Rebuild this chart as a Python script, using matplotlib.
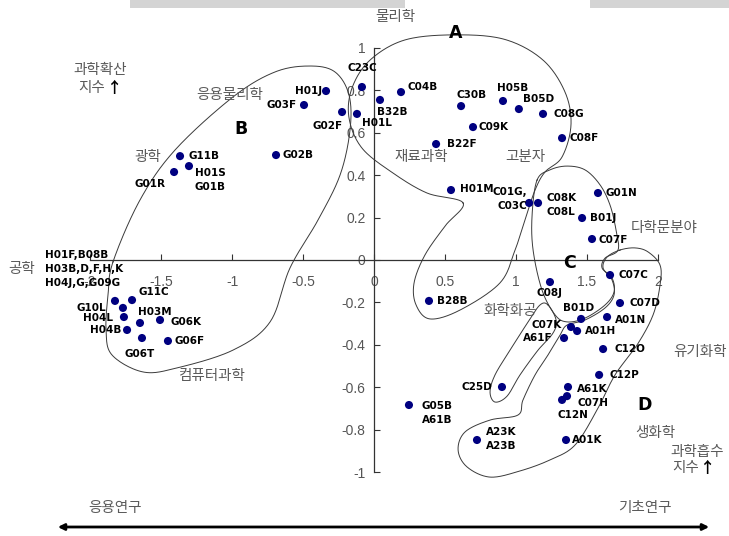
import matplotlib
matplotlib.use("Agg")
import matplotlib.pyplot as plt
from matplotlib.patches import FancyArrowPatch, Rectangle
import numpy as np

# patent classes: code label, x = 과학흡수 지수, y = 과학확산 지수
codes = ["C23C", "H01J", "G03F", "G02F", "H01L", "B32B", "C04B", "C30B", "H05B",
         "B05D", "C08G", "C09K", "C08F", "B22F", "H01M", "C01G,\nC03C", "C08K\nC08L",
         "G01N", "B01J", "C07F", "G11B", "H01S\nG01B", "G01R", "G02B", "G11C", "G10L",
         "H04L", "H03M", "G06K", "H04B", "G06T", "G06F",
         "H01F,B08B\nH03B,D,F,H,K\nH04J,G,G09G",
         "B28B", "C08J", "C07C", "C07D", "B01D", "A01N", "C07K", "A01H", "A61F",
         "C12O", "C12P", "A61K", "C07H", "C12N", "C25D", "G05B\nA61B", "A23K\nA23B",
         "A01K"]
x_vals = [-0.085, -0.338, -0.493, -0.225, -0.120, 0.042, 0.190, 0.613, 0.908,
          1.020, 1.190, 0.697, 1.324, 0.437, 0.542, 1.092, 1.155,
          1.577, 1.465, 1.535, -1.366, -1.303, -1.408, -0.690, -1.704, -1.768,
          -1.761, -1.648, -1.507, -1.739, -1.634, -1.451,
          -1.824,
          0.387, 1.239, 1.662, 1.732, 1.458, 1.641, 1.387, 1.430, 1.338,
          1.613, 1.585, 1.366, 1.359, 1.324, 0.901, 0.246, 0.725,
          1.352]
y_vals = [0.816, 0.797, 0.731, 0.698, 0.689, 0.755, 0.792, 0.726, 0.750,
          0.712, 0.689, 0.627, 0.575, 0.547, 0.330, 0.269, 0.269,
          0.316, 0.198, 0.099, 0.490, 0.443, 0.415, 0.495, -0.189, -0.226,
          -0.269, -0.297, -0.283, -0.330, -0.368, -0.382,
          -0.193,
          -0.193, -0.104, -0.071, -0.203, -0.278, -0.269, -0.316, -0.335, -0.368,
          -0.420, -0.542, -0.599, -0.642, -0.660, -0.599, -0.684, -0.849,
          -0.849]

x_ticks = [-2, -1.5, -1, -0.5, 0, 0.5, 1, 1.5, 2]
x_ticklabels = ["-2", "-1.5", "-1", "-0.5", "0", "0.5", "1", "1.5", "2"]
y_ticks = [-1, -0.8, -0.6, -0.4, -0.2, 0, 0.2, 0.4, 0.6, 0.8, 1]
y_ticklabels = ["-1", "-0.8", "-0.6", "-0.4", "-0.2", "0", "0.2", "0.4", "0.6", "0.8", "1"]

# label placement: (dx, dy) in pixels from the dot, horizontal alignment
label_pos = {
    "C23C": (0, 19, "center"), "H01J": (-4, 0, "right"), "G03F": (-7, 0, "right"),
    "G02F": (1, -14, "right"), "H01L": (5, -9, "left"), "B32B": (-3, -12, "left"),
    "C04B": (6, 5, "left"), "C30B": (10, 11, "center"), "H05B": (10, 13, "center"),
    "B05D": (4, 10, "left"), "C08G": (10, 0, "left"), "C09K": (5, 0, "left"),
    "C08F": (7, 0, "left"), "B22F": (11, 0, "left"), "H01M": (9, 1, "left"),
    "C01G,\nC03C": (-2, 4, "right"), "C08K\nC08L": (8, -2, "left"),
    "G01N": (8, 0, "left"), "B01J": (8, 0, "left"), "C07F": (6, -1, "left"),
    "G11B": (8, 0, "left"), "H01S\nG01B": (6, -14, "left"), "G01R": (-9, -12, "right"),
    "G02B": (6, 0, "left"), "G11C": (6, 8, "left"), "G10L": (-17, 0, "right"),
    "H04L": (-11, -1, "right"), "H03M": (-2, 11, "left"), "G06K": (10, -2, "left"),
    "H04B": (-6, 0, "right"), "G06T": (-2, -16, "center"), "G06F": (7, 0, "left"),
    "H01F,B08B\nH03B,D,F,H,K\nH04J,G,G09G": (-70, 32, "left"),
    "B28B": (8, 0, "left"), "C08J": (0, -11, "center"), "C07C": (8, 0, "left"),
    "C07D": (10, 0, "left"), "B01D": (-3, 11, "center"), "A01N": (8, -3, "left"),
    "C07K": (-9, 2, "right"), "A01H": (8, 0, "left"), "A61F": (-11, 0, "right"),
    "C12O": (11, 0, "left"), "C12P": (10, 0, "left"), "A61K": (9, -2, "left"),
    "C07H": (10, -7, "left"), "C12N": (-5, -15, "left"), "C25D": (-10, 0, "right"),
    "G05B\nA61B": (13, -8, "left"), "A23K\nA23B": (9, 1, "left"), "A01K": (6, 0, "left"),
}

# hand-drawn group outlines (data units)
outline_a = [(0.627, 0.269), (0.373, 0.316), (0.134, 0.410), (-0.085, 0.528),
             (-0.176, 0.670), (-0.155, 0.811), (-0.028, 0.943), (0.218, 1.038),
             (0.577, 1.062), (0.923, 1.040), (1.190, 0.943), (1.345, 0.792),
             (1.387, 0.637), (1.324, 0.486), (1.204, 0.415), (1.134, 0.330),
             (1.063, 0.189), (0.993, 0.047), (0.887, -0.108), (0.606, -0.236),
             (0.394, -0.278), (0.296, -0.212), (0.282, -0.108), (0.359, 0.024),
             (0.500, 0.160)]
outline_b = [(-1.838, -0.009), (-1.648, 0.283), (-1.401, 0.519), (-0.993, 0.769),
             (-0.697, 0.887), (-0.451, 0.915), (-0.275, 0.887), (-0.176, 0.778),
             (-0.169, 0.613), (-0.239, 0.401), (-0.394, 0.189), (-0.592, -0.038),
             (-0.732, -0.292), (-0.993, -0.425), (-1.387, -0.509), (-1.627, -0.528),
             (-1.845, -0.448), (-1.887, -0.330), (-1.873, -0.165)]
outline_c = [(1.148, 0.377), (1.239, 0.425), (1.359, 0.443), (1.486, 0.425),
             (1.592, 0.354), (1.662, 0.259), (1.704, 0.142), (1.718, 0.047),
             (1.627, 0.009), (1.606, -0.038), (1.676, -0.085), (1.690, -0.151),
             (1.627, -0.212), (1.486, -0.274), (1.359, -0.292), (1.275, -0.259),
             (1.183, -0.142), (1.120, 0.047), (1.113, 0.212)]
outline_cc = [(1.225, -0.212), (1.282, -0.283), (1.261, -0.344), (1.155, -0.425),
              (1.028, -0.542), (0.937, -0.642), (0.852, -0.670), (0.817, -0.623),
              (0.852, -0.542), (0.958, -0.425), (1.085, -0.292), (1.169, -0.212)]
outline_d = [(1.732, 0.047), (1.641, 0.014), (1.613, -0.038), (1.676, -0.094),
             (1.690, -0.165), (1.627, -0.226), (1.486, -0.283), (1.359, -0.307),
             (1.310, -0.354), (1.225, -0.448), (1.134, -0.542), (1.049, -0.660),
             (1.014, -0.731), (0.817, -0.755), (0.641, -0.811), (0.592, -0.896),
             (0.655, -0.976), (0.817, -1.024), (1.028, -0.995), (1.239, -0.943),
             (1.415, -0.873), (1.570, -0.708), (1.697, -0.542), (1.852, -0.401),
             (1.965, -0.259), (2.014, -0.118), (2.014, -0.024), (1.930, 0.038),
             (1.838, 0.057)]


def smooth_loop(pts, n=24):
    # closed Catmull-Rom curve through the given points
    p = np.asarray(pts, float)
    m = len(p)
    t = np.linspace(0, 1, n, endpoint=False)[:, None]
    segs = []
    for i in range(m):
        p0, p1, p2, p3 = p[i - 1], p[i], p[(i + 1) % m], p[(i + 2) % m]
        segs.append(0.5 * (2 * p1 + (p2 - p0) * t
                           + (2 * p0 - 5 * p1 + 4 * p2 - p3) * t ** 2
                           + (3 * p1 - p0 - 3 * p2 + p3) * t ** 3))
    out = np.vstack(segs)
    return np.vstack([out, out[:1]])


W, H = 729, 536
fig = plt.figure(figsize=(W / 100, H / 100), dpi=100)
ax = fig.add_axes([0.065, 0.0205, 0.9156, 0.9493])
ax.set_xlim(-2.3, 2.4)
ax.set_ylim(-1.25, 1.15)
ax.patch.set_alpha(0)

for side in ["top", "right"]:
    ax.spines[side].set_visible(False)
ax.spines["left"].set_position(("data", 0))
ax.spines["bottom"].set_position(("data", 0))
ax.spines["left"].set_bounds(-1, 1)
ax.spines["bottom"].set_bounds(-2, 2)
for side in ["left", "bottom"]:
    ax.spines[side].set_color("#333333")
    ax.spines[side].set_linewidth(0.9)

ax.set_xticks(x_ticks)
ax.set_xticklabels(x_ticklabels)
ax.set_yticks(y_ticks)
ax.set_yticklabels(y_ticklabels)
ax.tick_params(axis="both", direction="in", length=4, width=0.8, color="#333333",
               labelsize=10, labelcolor="#555555")
ax.tick_params(axis="x", pad=11)
ax.tick_params(axis="y", pad=6)
for lab in ax.get_xticklabels() + ax.get_yticklabels():
    lab.set_family("Liberation Sans")

for shape in [outline_a, outline_b, outline_c, outline_cc, outline_d]:
    xy = smooth_loop(shape)
    ax.plot(xy[:, 0], xy[:, 1], color="#3a3a3a", lw=0.7, zorder=2)

ax.scatter(x_vals, y_vals, s=34, color="#000080", edgecolors="none", zorder=3)

for code, xv, yv in zip(codes, x_vals, y_vals):
    dx, dy, ha = label_pos[code]
    ax.annotate(code, (xv, yv), xytext=(dx, dy), textcoords="offset pixels",
                ha=ha, va="center", fontsize=7.5, fontweight="bold",
                family="DejaVu Sans", linespacing=1.45, zorder=4)


def fig_text(px, py, s, **kw):
    fig.text(px / W, 1 - py / H, s, **kw)


ko = dict(family=["Noto Sans CJK KR", "DejaVu Sans"], fontsize=10.5,
          color="#5a5a5a", ha="center", va="center")
arrow_up = dict(family=["Noto Sans CJK KR", "DejaVu Sans"], fontsize=11,
                fontweight="bold", color="black", ha="center", va="center")
fig_text(395, 17, "물리학", **ko)
fig_text(100, 70, "과학확산", **ko)
fig_text(92, 88, "지수", **ko)
fig_text(115, 88, "↑", **arrow_up)
fig_text(230, 95, "응용물리학", **ko)
fig_text(148, 157, "광학", **ko)
fig_text(22, 269, "공학", **ko)
fig_text(212, 376, "컴퓨터과학", **ko)
fig_text(421, 157, "재료과학", **ko)
fig_text(525, 157, "고분자", **ko)
fig_text(664, 228, "다학문분야", **ko)
fig_text(510, 311, "화학화공", **ko)
fig_text(700, 352, "유기화학", **ko)
fig_text(655, 433, "생화학", **ko)
fig_text(697, 452, "과학흡수", **ko)
fig_text(686, 468, "지수", **ko)
fig_text(708, 468, "↑", **arrow_up)
fig_text(115, 508, "응용연구", **ko)
fig_text(645, 508, "기초연구", **ko)

big = dict(fontsize=12.5, fontweight="bold", family="DejaVu Sans", ha="center",
           va="center", color="black")
fig_text(456, 33, "A", **big)
fig_text(241, 129, "B", **big)
fig_text(570, 263, "C", **big)
fig_text(645, 405, "D", **big)

arrow = FancyArrowPatch((55 / W, 1 - 527 / H), (712 / W, 1 - 527 / H),
                        transform=fig.transFigure, arrowstyle="<|-|>",
                        mutation_scale=9, lw=2, color="black")
fig.add_artist(arrow)

# grey strip along the top edge
for x0, x1 in [(130, 405), (590, 729)]:
    fig.add_artist(Rectangle((x0 / W, 1 - 8 / H), (x1 - x0) / W, 8 / H,
                             transform=fig.transFigure, color="#d4d4d4", lw=0))

fig.savefig("out.png", dpi=100)
